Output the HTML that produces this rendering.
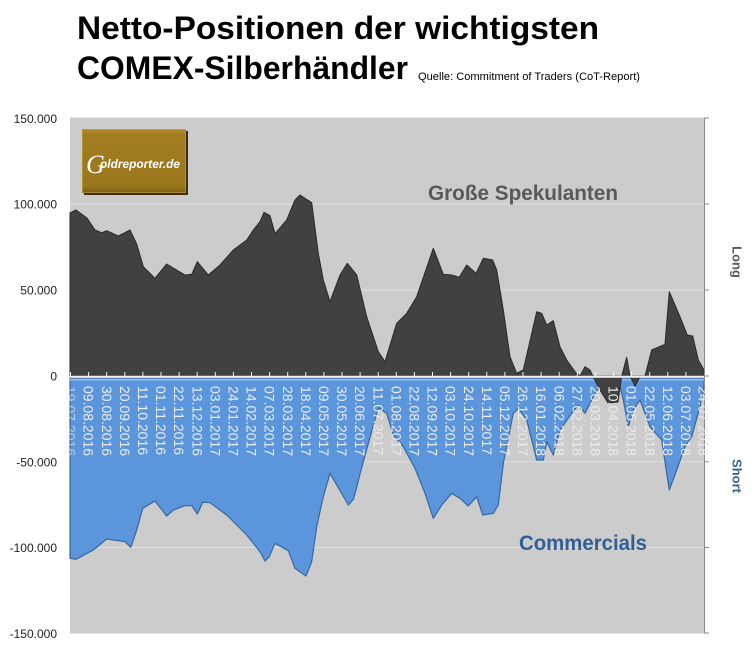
<!DOCTYPE html>
<html><head><meta charset="utf-8"><style>
html,body{margin:0;padding:0;background:#fff;}
svg{display:block;}
</style></head><body>
<svg width="754" height="653" viewBox="0 0 754 653" xmlns="http://www.w3.org/2000/svg">
<defs>
<linearGradient id="gold" x1="0" y1="0" x2="0" y2="1">
<stop offset="0" stop-color="#b48c2c"/>
<stop offset="0.08" stop-color="#a27d20"/>
<stop offset="0.9" stop-color="#9a761d"/>
<stop offset="1" stop-color="#7a5c14"/>
</linearGradient>
</defs>
<rect width="754" height="653" fill="#ffffff"/>
<!-- Title -->
<text x="77" y="39" font-family="Liberation Sans, sans-serif" font-weight="bold" font-size="32" fill="#000" textLength="522" lengthAdjust="spacingAndGlyphs">Netto-Positionen der wichtigsten</text>
<text x="77" y="79" font-family="Liberation Sans, sans-serif" font-weight="bold" font-size="32" fill="#000" textLength="331" lengthAdjust="spacingAndGlyphs">COMEX-Silberhändler</text>
<text x="418" y="80" font-family="Liberation Sans, sans-serif" font-size="11" fill="#000" textLength="222" lengthAdjust="spacingAndGlyphs">Quelle: Commitment of Traders (CoT-Report)</text>

<!-- Plot area -->
<rect x="70" y="117.5" width="634" height="516" fill="#cccccc"/>
<g stroke="#dedede" stroke-width="1.2">
<line x1="70" y1="204" x2="704" y2="204"/>
<line x1="70" y1="290" x2="704" y2="290"/>
<line x1="70" y1="461.8" x2="704" y2="461.8"/>
<line x1="70" y1="547.5" x2="704" y2="547.5"/>
</g>

<!-- Commercials (blue) -->
<path fill="#5b96dd" stroke="#3767a0" stroke-width="1.2" stroke-linejoin="round" d="M70,378 L70,558.3 L76,559.3 L93.3,550 L106.7,539 L125,541.7 L130.7,547.3 L136.7,530 L142.7,508.3 L155,501 L166.7,516 L173.3,510 L185,505.7 L191.7,505.7 L197.3,514 L202.7,502.3 L210,502.7 L226.7,515 L246.7,535 L260,551.7 L265,561 L269.3,556.7 L275,543.3 L288.3,550.7 L295,568.3 L306,576 L311.7,561.7 L316.7,526.7 L323.3,496.7 L330,473.3 L348.3,505 L353.3,499.3 L356,490 L360,474 L366,452 L372,430 L378.3,408 L386.7,413.3 L393.3,435 L403.3,446.7 L415,468.3 L425,493.3 L433.3,518.3 L441.7,505 L451.7,493.3 L460,498.3 L468.3,506 L476.7,496.7 L482.7,515 L493.3,513.3 L498.3,505 L503.3,463.3 L513.3,413.3 L518.3,408.3 L526.7,420 L536.7,460 L543.3,460 L546.7,441.7 L553.3,455 L560,430 L571.7,413.3 L578.3,405 L585,413.3 L593.3,396.7 L600,386 L620,386 L623.3,400 L628.3,426.7 L633.3,410 L640,400 L650,426.7 L661.7,440 L669.3,490 L676.7,470 L685,446.7 L691.7,436.7 L700,406.7 L704,386.7 L704,378 Z"/>
<line x1="70" y1="379.6" x2="704" y2="379.6" stroke="#8fbbec" stroke-width="2"/>

<!-- Große Spekulanten (dark) -->
<path fill="#414141" stroke="#2a2a2a" stroke-width="1" stroke-linejoin="round" d="M70,376 L70,213 L76,210 L87,218 L95,230 L101.7,232.7 L106.7,230.7 L118.3,236 L130,230 L136.7,244 L143.3,266.7 L155,278.3 L166.7,264 L185,275 L191.7,274.3 L197.3,261.7 L208.3,275 L220,265 L233.3,250 L246.7,240 L253.3,230 L260,221.7 L264,212.3 L270,215.7 L275,233.3 L276.7,231.7 L286.7,220 L295,200 L300,195 L311.7,202.7 L318.3,253.3 L323.3,280 L330,301.7 L340,275 L347.3,263.3 L356.7,275 L366.7,316.7 L378.3,351.7 L385,361.7 L396.7,323.3 L406.7,313.3 L416.7,296.7 L433.3,248.3 L443.3,274.3 L451.7,275 L459.3,277.3 L466.7,265 L476,273.3 L483.3,258.3 L492.7,260 L496.7,270 L503.3,310 L510,356.7 L516.7,373.3 L523.3,370 L536.7,311.7 L541.7,313.3 L546.7,325 L553.3,320.7 L560,346.7 L566.7,360 L575,371.7 L580,376 L585,366.7 L590,370 L593.3,377 L600,390 L608,403 L618,402 L621.7,376 L626.7,357.3 L630,376 L635,386 L640,377 L645,376 L651.7,350 L665,344.3 L669.3,291.7 L680,316.7 L687.3,335 L692.7,336 L698.3,360 L704,370 L704,376 Z"/>

<!-- zero axis -->
<line x1="70" y1="376.8" x2="704" y2="376.8" stroke="#f2f2f2" stroke-width="2"/>
<g stroke="#f2f2f2" stroke-width="1">
<line x1="70.5" y1="372" x2="70.5" y2="376"/><line x1="88.6" y1="372" x2="88.6" y2="376"/><line x1="106.7" y1="372" x2="106.7" y2="376"/><line x1="124.8" y1="372" x2="124.8" y2="376"/><line x1="142.9" y1="372" x2="142.9" y2="376"/><line x1="161" y1="372" x2="161" y2="376"/><line x1="179.1" y1="372" x2="179.1" y2="376"/><line x1="197.2" y1="372" x2="197.2" y2="376"/><line x1="215.3" y1="372" x2="215.3" y2="376"/><line x1="233.4" y1="372" x2="233.4" y2="376"/><line x1="251.5" y1="372" x2="251.5" y2="376"/><line x1="269.6" y1="372" x2="269.6" y2="376"/><line x1="287.7" y1="372" x2="287.7" y2="376"/><line x1="305.8" y1="372" x2="305.8" y2="376"/><line x1="323.9" y1="372" x2="323.9" y2="376"/><line x1="342" y1="372" x2="342" y2="376"/><line x1="360.1" y1="372" x2="360.1" y2="376"/><line x1="378.2" y1="372" x2="378.2" y2="376"/><line x1="396.3" y1="372" x2="396.3" y2="376"/><line x1="414.4" y1="372" x2="414.4" y2="376"/><line x1="432.5" y1="372" x2="432.5" y2="376"/><line x1="450.6" y1="372" x2="450.6" y2="376"/><line x1="468.7" y1="372" x2="468.7" y2="376"/><line x1="486.8" y1="372" x2="486.8" y2="376"/><line x1="504.9" y1="372" x2="504.9" y2="376"/><line x1="523" y1="372" x2="523" y2="376"/><line x1="541.1" y1="372" x2="541.1" y2="376"/><line x1="559.2" y1="372" x2="559.2" y2="376"/><line x1="577.3" y1="372" x2="577.3" y2="376"/><line x1="595.4" y1="372" x2="595.4" y2="376"/><line x1="613.5" y1="372" x2="613.5" y2="376"/><line x1="631.6" y1="372" x2="631.6" y2="376"/><line x1="649.7" y1="372" x2="649.7" y2="376"/><line x1="667.8" y1="372" x2="667.8" y2="376"/><line x1="685.9" y1="372" x2="685.9" y2="376"/>
</g>

<!-- right axis -->
<line x1="704.5" y1="117.5" x2="704.5" y2="633.5" stroke="#8a8a8a" stroke-width="1"/>
<g stroke="#8a8a8a" stroke-width="1">
<line x1="704" y1="118" x2="709" y2="118"/><line x1="704" y1="204" x2="709" y2="204"/><line x1="704" y1="290" x2="709" y2="290"/><line x1="704" y1="376" x2="709" y2="376"/><line x1="704" y1="461.8" x2="709" y2="461.8"/><line x1="704" y1="547.5" x2="709" y2="547.5"/><line x1="704" y1="633" x2="709" y2="633"/>
</g>

<!-- y labels -->
<g font-family="Liberation Sans, sans-serif" font-size="12" fill="#222" text-anchor="end">
<text x="57" y="123">150.000</text>
<text x="57" y="208.5">100.000</text>
<text x="57" y="294.5">50.000</text>
<text x="57" y="380.5">0</text>
<text x="57" y="466.5">-50.000</text>
<text x="57" y="552">-100.000</text>
<text x="57" y="638">-150.000</text>
</g>

<!-- x labels -->
<g font-family="Liberation Sans, sans-serif" font-size="14" fill="#ececec">
<text transform="translate(70.5,386) rotate(90)" dy="0.35em" opacity="0.6">19.07.2016</text>
<text transform="translate(88.6,386) rotate(90)" dy="0.35em">09.08.2016</text>
<text transform="translate(106.7,386) rotate(90)" dy="0.35em">30.08.2016</text>
<text transform="translate(124.8,386) rotate(90)" dy="0.35em">20.09.2016</text>
<text transform="translate(142.9,386) rotate(90)" dy="0.35em">11.10.2016</text>
<text transform="translate(161,386) rotate(90)" dy="0.35em">01.11.2016</text>
<text transform="translate(179.1,386) rotate(90)" dy="0.35em">22.11.2016</text>
<text transform="translate(197.2,386) rotate(90)" dy="0.35em">13.12.2016</text>
<text transform="translate(215.3,386) rotate(90)" dy="0.35em">03.01.2017</text>
<text transform="translate(233.4,386) rotate(90)" dy="0.35em">24.01.2017</text>
<text transform="translate(251.5,386) rotate(90)" dy="0.35em">14.02.2017</text>
<text transform="translate(269.6,386) rotate(90)" dy="0.35em">07.03.2017</text>
<text transform="translate(287.7,386) rotate(90)" dy="0.35em">28.03.2017</text>
<text transform="translate(305.8,386) rotate(90)" dy="0.35em">18.04.2017</text>
<text transform="translate(323.9,386) rotate(90)" dy="0.35em">09.05.2017</text>
<text transform="translate(342,386) rotate(90)" dy="0.35em">30.05.2017</text>
<text transform="translate(360.1,386) rotate(90)" dy="0.35em">20.06.2017</text>
<text transform="translate(378.2,386) rotate(90)" dy="0.35em">11.07.2017</text>
<text transform="translate(396.3,386) rotate(90)" dy="0.35em">01.08.2017</text>
<text transform="translate(414.4,386) rotate(90)" dy="0.35em">22.08.2017</text>
<text transform="translate(432.5,386) rotate(90)" dy="0.35em">12.09.2017</text>
<text transform="translate(450.6,386) rotate(90)" dy="0.35em">03.10.2017</text>
<text transform="translate(468.7,386) rotate(90)" dy="0.35em">24.10.2017</text>
<text transform="translate(486.8,386) rotate(90)" dy="0.35em">14.11.2017</text>
<text transform="translate(504.9,386) rotate(90)" dy="0.35em">05.12.2017</text>
<text transform="translate(523,386) rotate(90)" dy="0.35em">26.12.2017</text>
<text transform="translate(541.1,386) rotate(90)" dy="0.35em">16.01.2018</text>
<text transform="translate(559.2,386) rotate(90)" dy="0.35em">06.02.2018</text>
<text transform="translate(577.3,386) rotate(90)" dy="0.35em">27.02.2018</text>
<text transform="translate(595.4,386) rotate(90)" dy="0.35em">20.03.2018</text>
<text transform="translate(613.5,386) rotate(90)" dy="0.35em">10.04.2018</text>
<text transform="translate(631.6,386) rotate(90)" dy="0.35em">01.05.2018</text>
<text transform="translate(649.7,386) rotate(90)" dy="0.35em">22.05.2018</text>
<text transform="translate(667.8,386) rotate(90)" dy="0.35em">12.06.2018</text>
<text transform="translate(685.9,386) rotate(90)" dy="0.35em">03.07.2018</text>
<text transform="translate(703.5,386) rotate(90)" dy="0.35em">24.07.2018</text>
</g>

<!-- series labels -->
<text x="428" y="200" font-family="Liberation Sans, sans-serif" font-weight="bold" font-size="21" fill="#595959" textLength="190" lengthAdjust="spacingAndGlyphs">Große Spekulanten</text>
<text x="519" y="550" font-family="Liberation Sans, sans-serif" font-weight="bold" font-size="21" fill="#335e94" textLength="128" lengthAdjust="spacingAndGlyphs">Commercials</text>
<text transform="translate(737,262) rotate(90)" dy="0.35em" text-anchor="middle" font-family="Liberation Sans, sans-serif" font-weight="bold" font-size="13" fill="#595959">Long</text>
<text transform="translate(737,476) rotate(90)" dy="0.35em" text-anchor="middle" font-family="Liberation Sans, sans-serif" font-weight="bold" font-size="13" fill="#3a5f8f">Short</text>

<!-- Logo -->
<rect x="84" y="131" width="104" height="64" fill="#3e2f0a"/>
<rect x="82" y="129" width="104" height="64" fill="url(#gold)"/>
<rect x="82.5" y="129.5" width="103" height="63" fill="none" stroke="#c39c40" stroke-width="1" opacity="0.6"/>
<text x="86" y="173" font-family="Liberation Serif, serif" font-style="italic" font-size="26" fill="#ffffff">G</text>
<text x="100" y="168" font-family="Liberation Sans, sans-serif" font-style="italic" font-weight="bold" font-size="12" fill="#ffffff" textLength="80" lengthAdjust="spacingAndGlyphs">oldreporter.de</text>
</svg>
</body></html>
